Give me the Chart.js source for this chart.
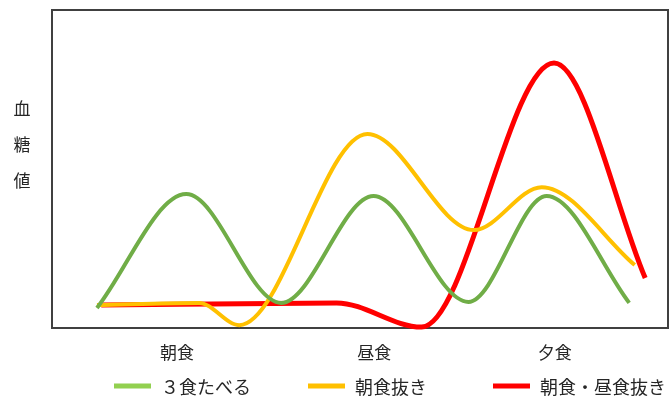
<!DOCTYPE html>
<html>
<head>
<meta charset="utf-8">
<script src="https://cdn.jsdelivr.net/npm/chart.js@4"></script>
<style>
  body { margin: 0; background: #fff; }
</style>
</head>
<body>
<canvas id="chart" width="670" height="398"></canvas>
<script>
// x runs 0..100 across the plot box, y runs 0..100 bottom to top
const seriesNames = ['３食たべる', '朝食抜き', '朝食・昼食抜き'];
const tickLabels = ['朝食', '昼食', '夕食'];
const tickPositions = [20.3, 52.3, 81.6];
const yTitle = ['血', '糖', '値'];

const threeMealsX = [7.3, 21.8, 37.2, 52.2, 67.6, 80.3, 93.7];
const threeMealsY = [6.3, 42.1, 7.9, 41.5, 8.2, 41.5, 7.9];

const noBreakfastX = [7.3, 23.9, 30.4, 51.2, 68.5, 79.5, 94.6];
const noBreakfastY = [7.2, 7.9, 0.9, 61.0, 30.8, 44.3, 19.8];

const noBreakfastLunchX = [8.0, 46.2, 60.0, 81.5, 96.3];
const noBreakfastLunchY = [7.2, 7.9, 0.3, 83.3, 15.7];

const toPoints = (xs, ys) => xs.map((x, i) => ({ x, y: ys[i] }));

const framePlugin = {
  id: 'frame',
  beforeDatasetsDraw(chart) {
    const { ctx, chartArea: a } = chart;
    ctx.save();
    ctx.strokeStyle = '#404040';
    ctx.lineWidth = 2;
    ctx.strokeRect(a.left, a.top, a.right - a.left, a.bottom - a.top);
    ctx.restore();
  }
};

const yTitlePlugin = {
  id: 'yTitle',
  afterDraw(chart) {
    const ctx = chart.ctx;
    ctx.save();
    ctx.font = '17px "Noto Sans CJK JP"';
    ctx.fillStyle = '#262626';
    ctx.textAlign = 'center';
    ctx.textBaseline = 'middle';
    yTitle.forEach((ch, i) => ctx.fillText(ch, 22, 109 + i * 36));
    ctx.restore();
  }
};

// legend: line sample then label, one item per dataset
const legendStarts = [114, 308, 493];
const lineLegendPlugin = {
  id: 'lineLegend',
  afterDraw(chart) {
    const ctx = chart.ctx;
    const y = 386;
    ctx.save();
    ctx.font = '18px "Noto Sans CJK JP"';
    ctx.textBaseline = 'middle';
    chart.data.datasets.forEach((ds, i) => {
      const x = legendStarts[i];
      ctx.strokeStyle = ds.legendColor;
      ctx.lineWidth = 5;
      ctx.beginPath();
      ctx.moveTo(x, y);
      ctx.lineTo(x + 37, y);
      ctx.stroke();
      ctx.fillStyle = '#262626';
      ctx.fillText(ds.label, x + 47, y + 1);
    });
    ctx.restore();
  }
};

new Chart(document.getElementById('chart'), {
  type: 'line',
  data: {
    datasets: [{
      label: seriesNames[0],
      data: toPoints(threeMealsX, threeMealsY),
      borderColor: '#70AD47',
      legendColor: '#92D050',
      borderWidth: 4,
    }, {
      label: seriesNames[1],
      data: toPoints(noBreakfastX, noBreakfastY),
      borderColor: '#FFC000',
      legendColor: '#FFC000',
      borderWidth: 4,
    }, {
      label: seriesNames[2],
      data: toPoints(noBreakfastLunchX, noBreakfastLunchY),
      borderColor: '#FF0000',
      legendColor: '#FF0000',
      borderWidth: 5,
    }]
  },
  options: {
    responsive: false,
    animation: false,
    events: [],
    layout: {
      padding: { left: 52, right: 2, top: 10, bottom: 0 },
    },
    elements: {
      point: { radius: 0 },
      line: { cubicInterpolationMode: 'monotone', fill: false },
    },
    datasets: {
      line: { clip: false },
    },
    scales: {
      x: {
        type: 'linear',
        min: 0,
        max: 100,
        grid: { display: false, drawTicks: false },
        border: { display: false },
        afterBuildTicks: (scale) => {
          scale.ticks = tickPositions.map(v => ({ value: v }));
        },
        afterFit: (scale) => {
          scale.height = 70;
        },
        ticks: {
          padding: 14,
          color: '#262626',
          font: { family: '"Noto Sans CJK JP"', size: 17 },
          maxRotation: 0,
          callback: (value) => {
            const i = tickPositions.indexOf(value);
            return i >= 0 ? tickLabels[i] : '';
          }
        }
      },
      y: {
        display: false,
        min: 0,
        max: 100,
      }
    },
    plugins: {
      legend: { display: false },
      tooltip: { enabled: false },
    }
  },
  plugins: [framePlugin, yTitlePlugin, lineLegendPlugin]
});
</script>
</body>
</html>
